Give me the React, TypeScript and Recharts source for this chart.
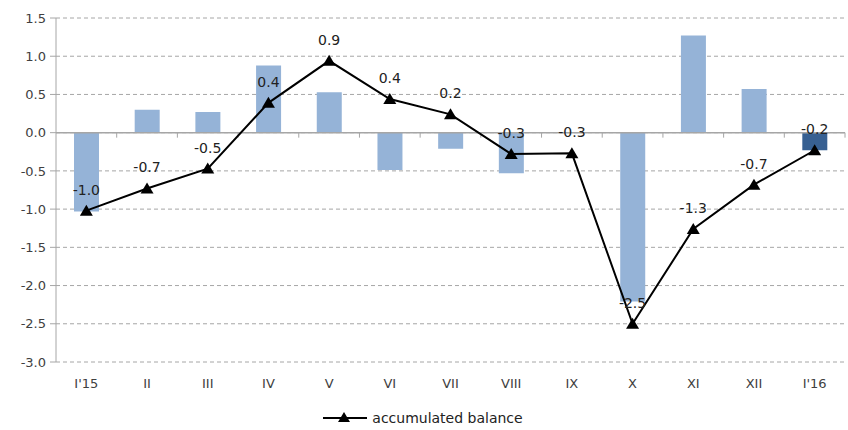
import {
  Bar,
  CartesianGrid,
  Cell,
  ComposedChart,
  LabelList,
  Legend,
  Line,
  ReferenceLine,
  XAxis,
  YAxis,
} from "recharts";

const months = ["I'15", "II", "III", "IV", "V", "VI", "VII", "VIII", "IX", "X", "XI", "XII", "I'16"];
const monthly = [-1.03, 0.3, 0.27, 0.88, 0.53, -0.49, -0.21, -0.53, 0, -2.21, 1.27, 0.57, -0.23];
const accumulated = [-1.02, -0.73, -0.47, 0.39, 0.94, 0.44, 0.24, -0.28, -0.27, -2.5, -1.26, -0.68, -0.23];
const yTicks = [-3, -2.5, -2, -1.5, -1, -0.5, 0, 0.5, 1, 1.5];

const data = months.map((m, i) => ({
  month: m,
  monthly: monthly[i],
  accumulated: accumulated[i],
}));

const FONT = "'DejaVu Sans', Verdana, sans-serif";
const AXIS_GRAY = "#a6a6a6";

function Triangle(props: any) {
  const { cx, cy } = props;
  if (cx == null || cy == null) return null;
  return (
    <path
      d={`M${cx},${cy - 6} L${cx + 6.5},${cy + 5} L${cx - 6.5},${cy + 5} Z`}
      fill="#000"
    />
  );
}

function ZeroLine(props: any) {
  const { x1, y1, x2 } = props;
  if (x1 == null) return null;
  const step = (x2 - x1) / months.length;
  const ticks = months.slice(1).map((_, i) => x1 + step * (i + 1));
  return (
    <g>
      <line x1={x1} y1={y1} x2={x2} y2={y1} stroke={AXIS_GRAY} strokeWidth={1.5} />
      {ticks.concat([x2]).map((x, i) => (
        <line key={i} x1={x} y1={y1} x2={x} y2={y1 + 5} stroke={AXIS_GRAY} />
      ))}
    </g>
  );
}

function LegendBox() {
  return (
    <div
      style={{
        display: "flex",
        justifyContent: "center",
        alignItems: "center",
        height: 24,
        fontFamily: FONT,
        fontSize: 14,
        color: "#222",
      }}
    >
      <svg width={46} height={14} style={{ marginRight: 4 }}>
        <line x1={1} y1={7} x2={45} y2={7} stroke="#000" strokeWidth={2} />
        <path d="M22,1 L28,11 L16,11 Z" fill="#000" />
      </svg>
      <span>accumulated balance</span>
    </div>
  );
}

export default function App() {
  return (
    <div style={{ position: "absolute", left: 0, top: 0, background: "#fff" }}>
      <ComposedChart
        width={848}
        height={430}
        data={data}
        margin={{ top: 18, right: 3, bottom: 0, left: 0 }}
        barCategoryGap={0}
      >
        <CartesianGrid vertical={false} stroke={AXIS_GRAY} strokeDasharray="4 3" />
        <XAxis
          dataKey="month"
          axisLine={false}
          tickLine={false}
          tickMargin={11}
          height={44}
          interval={0}
          tick={{ fontFamily: FONT, fontSize: 13, fill: "#404040" }}
        />
        <YAxis
          domain={[-3, 1.5]}
          ticks={yTicks}
          width={56}
          axisLine={{ stroke: AXIS_GRAY }}
          tickLine={{ stroke: AXIS_GRAY }}
          tickSize={6}
          tickMargin={4}
          tickFormatter={(v: number) => v.toFixed(1)}
          tick={{ fontFamily: FONT, fontSize: 13, fill: "#404040" }}
          allowDataOverflow
        />
        <Bar dataKey="monthly" barSize={25} legendType="none" isAnimationActive={false}>
          {data.map((_, i) => (
            <Cell key={i} fill={i === data.length - 1 ? "#376092" : "#95b3d7"} />
          ))}
        </Bar>
        <ReferenceLine y={0} shape={ZeroLine} />
        <Line
          dataKey="accumulated"
          stroke="#000"
          strokeWidth={2}
          dot={<Triangle />}
          activeDot={false}
          isAnimationActive={false}
        >
          <LabelList
            dataKey="accumulated"
            position="top"
            offset={16}
            formatter={(v: any) => Number(v).toFixed(1)}
            style={{ fontFamily: FONT, fontSize: 14, fill: "#222" }}
          />
        </Line>
        <Legend verticalAlign="bottom" content={<LegendBox />} />
      </ComposedChart>
    </div>
  );
}
